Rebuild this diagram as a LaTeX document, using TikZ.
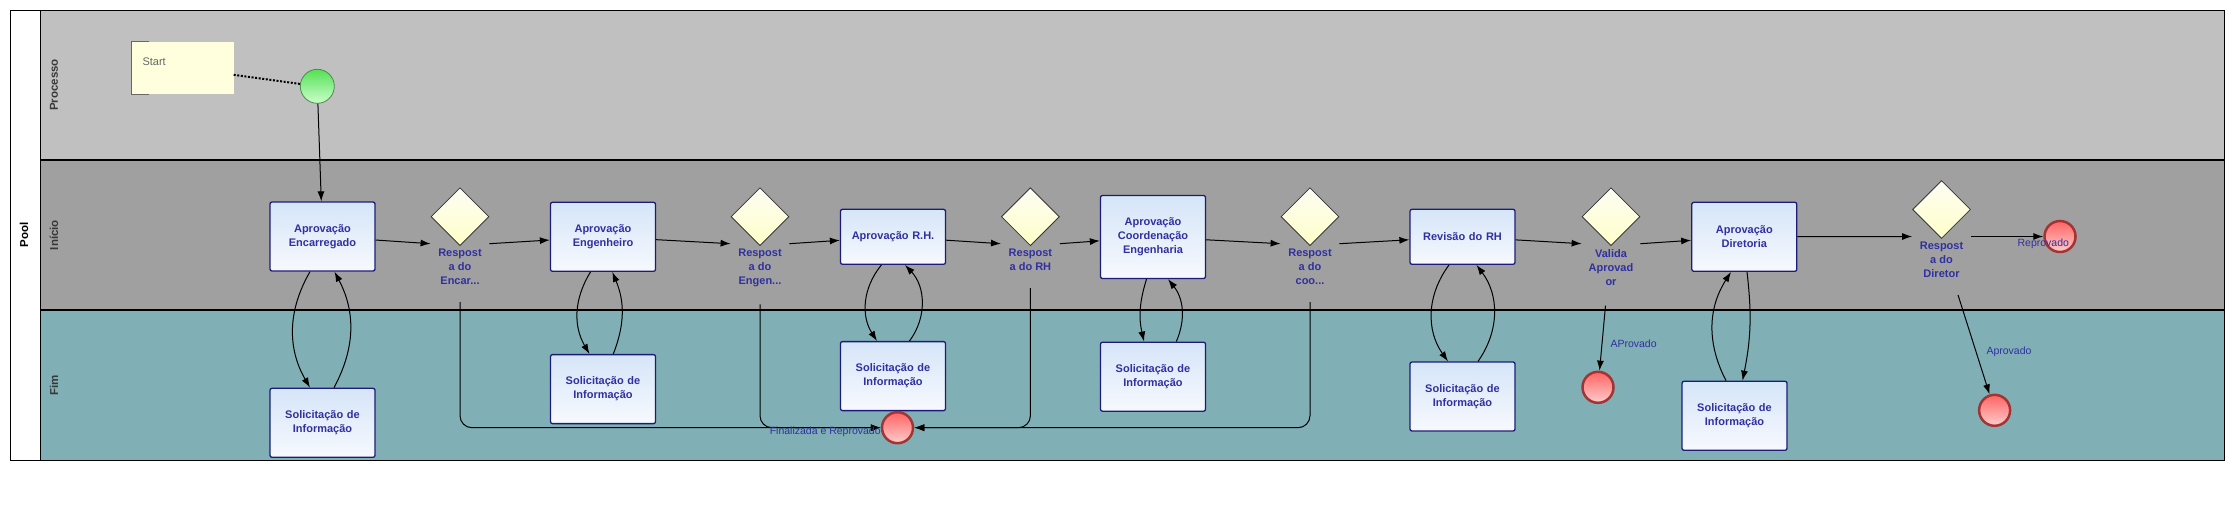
\documentclass[tikz,border=0pt]{standalone}
\usepackage{fontspec}
\setmainfont{Liberation Sans}
\usetikzlibrary{shapes.geometric, arrows.meta, positioning}
\newcommand{\tskfont}{\fontsize{11}{14}\selectfont\bfseries}
\newcommand{\lblfont}{\fontsize{10.5}{12}\selectfont}
\newcommand{\lanefont}{\fontsize{11.5}{13}\selectfont\bfseries}
\definecolor{lanegray}{HTML}{C0C0C0}
\definecolor{lanedark}{HTML}{A0A0A0}
\definecolor{laneteal}{HTML}{80B0B5}
\definecolor{taskblue}{HTML}{3030A0}
\definecolor{taskline}{HTML}{1C1C78}
\definecolor{tasktop}{HTML}{D5E5F8}
\definecolor{taskbot}{HTML}{F7F9FE}
\definecolor{gatetop}{HTML}{FDFDF4}
\definecolor{gatebot}{HTML}{FFFFC8}
\definecolor{notefill}{HTML}{FFFFDD}
\definecolor{endline}{HTML}{A33434}
\definecolor{endtop}{HTML}{FF6464}
\definecolor{endbot}{HTML}{FFCCCC}
\definecolor{starttop}{HTML}{55E055}
\definecolor{startbot}{HTML}{CCFFCC}
\definecolor{startline}{HTML}{4A8A4A}

\begin{document}
\begin{tikzpicture}[x=1pt, y=-1pt,
  task/.style     = {draw=taskline, line width=1.3pt, rectangle, rounded corners=2pt, minimum width=105pt,
                     minimum height=69pt, text width=98pt, align=center, inner sep=0pt,
                     font=\tskfont, text=taskblue, top color=tasktop, bottom color=taskbot},
  gate/.style     = {diamond, draw=black!80, line width=0.8pt, minimum width=58pt, minimum height=58pt,
                     inner sep=0pt, top color=gatetop, bottom color=gatebot},
  gatetext/.style = {align=center, font=\tskfont, text=taskblue, inner sep=0pt},
  endev/.style    = {circle, draw=endline, line width=2.5pt, minimum size=31pt, inner sep=0pt,
                     top color=endtop, bottom color=endbot},
  startev/.style  = {circle, draw=startline, line width=0.8pt, minimum size=34pt, inner sep=0pt,
                     top color=starttop, bottom color=startbot},
  note/.style     = {fill=notefill, minimum width=102pt, minimum height=52pt, inner sep=0pt},
  lane/.style     = {font=\lanefont, text=black!78, rotate=90, inner sep=0pt},
  lbl/.style      = {font=\lblfont, text=taskblue, inner sep=0pt},
  flow/.style     = {->, line width=1pt},
  >={Latex[length=10pt,width=7pt]}]

\useasboundingbox (0,0) rectangle (2226,514);
\fill[white] (0,0) rectangle (2226,514);

% pool and lanes
\fill[lanegray] (40,10) rectangle (2224,160);
\fill[lanedark] (40,160) rectangle (2224,310);
\fill[laneteal] (40,310) rectangle (2224,460);
\draw[line width=2pt] (40,160) -- (2224,160);
\draw[line width=2pt] (40,310) -- (2224,310);
\draw[line width=1pt] (10,10) rectangle (2224,460);
\draw[line width=1pt] (40,10) -- (40,460);

\node[lane, text=black] (pool) at (24,235) {Pool};
\node[lane] (l1) at (54,85) {Processo};
\node[lane] (l2) at (54,235) {Início};
\node[lane] (l3) at (54,385) {Fim};

% start event and its note
\node[note] (ann) at (182.5,67.8) {};
\node[lbl, font=\fontsize{11}{13}\selectfont, text=black!60, anchor=west] (annt) at ([xshift=11pt, yshift=6pt]ann.west) {Start};
\draw[black!60, line width=1pt] ([xshift=18pt]ann.north west) -- (ann.north west) -- (ann.south west) -- ++(18,0);
\node[startev] (st) at (317.3,86.3) {};

% tasks in the lane Inicio
\node[task] (t1) at (322.5,236.5) {Aprovação\\Encarregado};
\node[task] (t2) at (603,236.8) {Aprovação\\Engenheiro};
\node[task, minimum height=55pt] (t3) at (893,236.8) {Aprovação R.H.};
\node[task, minimum height=83pt] (t4) at (1153,237) {Aprovação\\Coordenação\\Engenharia};
\node[task, minimum height=55pt] (t5) at (1462.5,236.8) {Revisão do RH};
\node[task] (t6) at (1744.3,236.8) {Aprovação\\Diretoria};

% requests for information, below each task
\node[task, below=116pt of t1] (s1) {Solicitação de\\Informação};
\node[task, below=82pt of t2] (s2) {Solicitação de\\Informação};
\node[task, below=76pt of t3] (s3) {Solicitação de\\Informação};
\node[task, below=62.4pt of t4] (s4) {Solicitação de\\Informação};
\node[task, below=96.4pt of t5] (s5) {Solicitação de\\Informação};
\node[task, below=108.7pt of t6, xshift=-9.8pt] (s6) {Solicitação de\\Informação};

% gateways with their texts
\node[gate] (g1) at (460,216.7) {};
\node[gate] (g2) at (760,216.7) {};
\node[gate] (g3) at (1030.4,216.7) {};
\node[gate] (g4) at (1310,216.7) {};
\node[gate] (g5) at (1611,216.7) {};
\node[gate] (g6) at (1941.5,209.5) {};
\node[gatetext, below=3pt of g1] (g1t) {Respost\\a do\\Encar...};
\node[gatetext, below=3pt of g2] (g2t) {Respost\\a do\\Engen...};
\node[gatetext, below=3pt of g3] (g3t) {Respost\\a do RH};
\node[gatetext, below=3pt of g4] (g4t) {Respost\\a do\\coo...};
\node[gatetext, below=3pt of g5] (g5t) {Valida\\Aprovad\\or};
\node[gatetext, below=3pt of g6] (g6t) {Respost\\a do\\Diretor};

% end events
\node[endev] (e1) at (897.5,427.7) {};
\node[endev] (e2) at (2060,236.5) {};
\node[endev] (e3) at (1994.6,410.3) {};
\node[endev] (e4) at (1598,387.3) {};

% flows
\draw[dash pattern=on 2pt off 1.6pt, line width=2pt] (ann) -- (st);
\draw[flow] (st) -- (t1);

\foreach \value in {1,...,6}
  \draw[flow] (t\value) -- ([yshift=-27pt]g\value.west);

\foreach \value/\next in {1/2,2/3,3/4,4/5,5/6}
  \draw[flow] ([yshift=-27pt]g\value.east) -- (t\next);

\draw[flow] ([xshift=-12.5pt]t1.south) to[bend right=30] ([xshift=-12.5pt]s1.north);
\draw[flow] ([xshift=11.5pt]s1.north) to[bend right=28] ([xshift=12pt]t1.south);
\draw[flow] ([xshift=-12.5pt]t2.south) to[bend right=31] ([xshift=-13.5pt]s2.north);
\draw[flow] ([xshift=10.3pt]s2.north) to[bend right=22] ([xshift=9.3pt]t2.south);
\draw[flow] ([xshift=-11.6pt]t3.south) to[bend right=36] ([xshift=-16pt]s3.north);
\draw[flow] ([xshift=16.5pt]s3.north) to[bend right=40] ([xshift=12pt]t3.south);
\draw[flow] ([xshift=-6.5pt]t4.south) to[bend right=15] ([xshift=-9pt]s4.north);
\draw[flow] ([xshift=23.3pt]s4.north) to[bend right=31] ([xshift=15pt]t4.south);
\draw[flow] ([xshift=-13.5pt]t5.south) to[bend right=36] ([xshift=-14.5pt]s5.north);
\draw[flow] ([xshift=15.5pt]s5.north) to[bend right=36] ([xshift=14pt]t5.south);
\draw[flow] ([xshift=-8.5pt]s6.north) to[bend left=30] ([xshift=-13.3pt]t6.south);
\draw[flow] ([xshift=2.7pt]t6.south) to[bend left=9] ([xshift=8pt]s6.north);

\draw[flow, rounded corners=12pt] ([yshift=-17pt]g1t.south) |- (e1.west);
\draw[flow, rounded corners=12pt] ([yshift=-17pt]g2t.south) |- node[lbl, pos=0.77, yshift=-4pt] (e1l) {Finalizada e Reprovado} (e1.west);
\draw[flow, rounded corners=12pt] ([yshift=-17pt]g3t.south) |- (e1.east);
\draw[flow, rounded corners=12pt] ([yshift=-17pt]g4t.south) |- (e1.east);

\draw[flow] ([xshift=-5.5pt, yshift=-20pt]g5t.south) -- node[lbl, pos=0.58, anchor=west, xshift=8pt] (e4l) {AProvado} (e4);
\draw[flow] ([yshift=-27pt]g6.east) -- node[lbl, pos=1, yshift=-7pt] (e2l) {Reprovado} (e2);
\draw[flow] ([xshift=16.5pt, yshift=-17pt]g6t.south) -- node[lbl, pos=0.57, anchor=west, xshift=10pt] (e3l) {Aprovado} (e3);

\end{tikzpicture}
\end{document}
